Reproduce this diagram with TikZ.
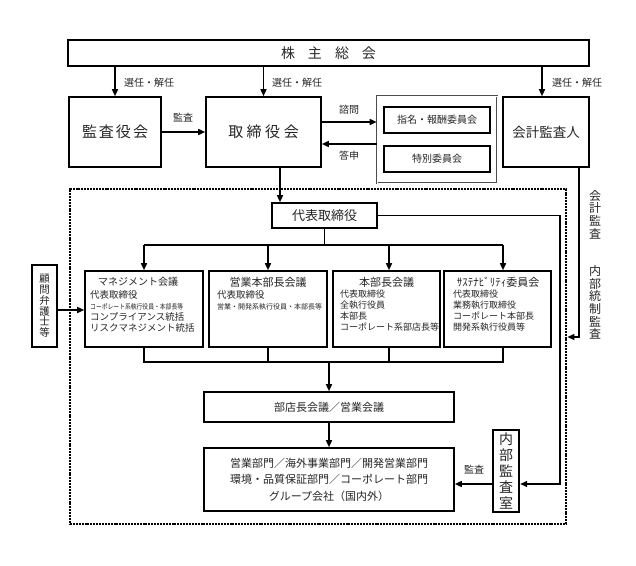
\documentclass[tikz,border=0pt]{standalone}
\usepackage{fontspec}
\usepackage{graphicx}
\setmainfont{Noto Sans CJK JP}
\usetikzlibrary{arrows.meta}
\newcommand\myfs[2]{\fontsize{#1}{#2}\selectfont}
\begin{document}
\begin{tikzpicture}[x=1pt,y=-1pt,
  box/.style={draw, line width=1.6pt, inner sep=0pt, align=center, text=black!85},
  arr/.style={line width=1.5pt, -{Triangle[length=7pt,width=6pt]}},
  ln/.style={line width=1.3pt},
  lbl/.style={font=\myfs{10}{12}, text=black!85, inner sep=0pt},
  txt/.style={inner sep=0pt, text=black!85},
  vtxt/.style={inner sep=0pt, text=black!85, align=center, font=\myfs{12}{12.6}}]
\fill[white] (0,0) rectangle (636,565);
\useasboundingbox (0,0) rectangle (636,565);

% top row
\node[box, line width=2.6pt, minimum width=521pt, minimum height=26pt, font=\myfs{14}{16}] (kabu) at (328.5,53) {株\hspace{13pt}主\hspace{13pt}総\hspace{13pt}会};
\node[box, minimum width=92pt, minimum height=70pt, font=\myfs{15}{17}] (kansa) at (115,132) {監\hspace{2pt}査\hspace{2pt}役\hspace{2pt}会};
\node[box, minimum width=115pt, minimum height=70pt, font=\myfs{15}{17}] (tori) at (263.5,132) {取\hspace{3.5pt}締\hspace{3.5pt}役\hspace{3.5pt}会};
\node[draw=black!70, double=white, double distance=0.6pt, line width=0.6pt, minimum width=120pt, minimum height=87pt, inner sep=0pt] (grp) at (437,139.5) {};
\node[box, minimum width=106pt, minimum height=26pt, font=\myfs{10}{12}] (shimei) at (437,120) {指名・報酬委員会};
\node[box, minimum width=106pt, minimum height=26pt, font=\myfs{10}{12}] (toku) at (437,159) {特別委員会};
\node[box, minimum width=86pt, minimum height=70pt, font=\myfs{13.5}{16}] (kaikei) at (546,132) {会計監査人};

\draw[arr] (kabu.south -| kansa) -- (kansa.north);
\draw[arr] (kabu.south -| tori) -- (tori.north);
\draw[arr] ([xshift=-4pt]kaikei.north |- kabu.south) -- ([xshift=-4pt]kaikei.north);
\node[lbl, anchor=west] (l1) at (124,83) {選任・解任};
\node[lbl, anchor=west] (l2) at (272,83) {選任・解任};
\node[lbl, anchor=west] (l3) at (552,83) {選任・解任};

\draw[arr] (kansa.east) -- (tori.west);
\node[lbl] (lk) at (183,118) {監査};
\coordinate (q1) at ([yshift=10pt]tori.east);
\draw[arr] (q1) -- (q1 -| grp.west);
\node[lbl] (lq) at (349,110) {諮問};
\coordinate (q2) at ([yshift=-12pt]tori.east);
\draw[arr] (q2 -| grp.west) -- (q2);
\node[lbl] (la) at (349,156) {答申};

% dotted frame
\node[draw, line width=2.8pt, dash pattern=on 2pt off 0.9pt, minimum width=496pt, minimum height=335pt, inner sep=0pt] (frame) at (318,356.5) {};

% representative director
\node[box, minimum width=105pt, minimum height=25pt, font=\myfs{13}{15}] (daihyo) at (324.5,215.5) {代表取締役};
\coordinate (t1) at ([xshift=16.5pt]tori.south);
\draw[arr] (t1) -- (t1 |- daihyo.north);

% four meeting boxes
\node[box, minimum width=118pt, minimum height=76pt] (b1) at (144,309) {};
\node[box, minimum width=118pt, minimum height=76pt] (b2) at (268,309) {};
\node[box, minimum width=107pt, minimum height=76pt] (b3) at (386.5,309) {};
\node[box, minimum width=107pt, minimum height=76pt] (b4) at (497.5,309) {};

\node[txt, font=\myfs{10}{12}] (b1t) at (138,282) {マネジメント会議};
\node[txt, font=\myfs{9.5}{11}, align=left, anchor=north west] (b1x) at (90,290) {代表取締役\\{\scalebox{0.83}[1]{\myfs{7}{8}コーポレート系執行役員・本部長等}}\\コンプライアンス統括\\リスクマネジメント統括};
\node[txt, font=\myfs{11}{13}] (b2t) at (268,282) {営業本部長会議};
\node[txt, font=\myfs{9.5}{11}, align=left, anchor=north west] (b2x) at (217,290) {代表取締役\\{\myfs{7}{8}営業・開発系執行役員・本部長等}};
\node[txt, font=\myfs{11}{13}] (b3t) at (386.5,282) {本部長会議};
\node[txt, font=\myfs{9}{11}, align=left, anchor=north west] (b3x) at (340,290) {代表取締役\\全執行役員\\本部長\\コーポレート系部店長等};
\node[txt, font=\myfs{11}{13}] (b4t) at (498,282) {ｻｽﾃﾅﾋﾞﾘﾃｨ委員会};
\node[txt, font=\myfs{9}{11}, align=left, anchor=north west] (b4x) at (453,290) {代表取締役\\業務執行取締役\\コーポレート本部長\\開発系執行役員等};

\coordinate (bt) at (324.5,245);
\coordinate (b4a) at ([xshift=5.5pt]b4.north);
\draw[ln] (daihyo.south) -- (bt);
\draw[ln] (bt -| b1.north) -- (bt -| b4a);
\draw[arr] (bt -| b1.north) -- (b1.north);
\draw[arr] (bt -| b2.north) -- (b2.north);
\draw[arr] ([xshift=2.5pt]b3.north |- bt) -- ([xshift=2.5pt]b3.north);
\draw[arr] (bt -| b4a) -- (b4a);

% bottom bar
\coordinate (bb) at (329,362);
\draw[ln] (b1.south) -- (b1.south |- bb) -- (bb -| b4a) -- (b4a |- b4.south);
\draw[ln] (b2.south) -- (b2.south |- bb);
\draw[ln] ([xshift=2.5pt]b3.south) -- ([xshift=2.5pt]b3.south |- bb);

\node[box, minimum width=250pt, minimum height=30pt, font=\myfs{11}{13}] (bu) at (329,407) {部店長会議／営業会議};
\draw[arr] (bb) -- (bu.north);
\node[box, minimum width=250pt, minimum height=63pt, font=\myfs{11}{16.5}] (eig) at (329,479.5) {営業部門／海外事業部門／開発営業部門\\環境・品質保証部門／コーポレート部門\\グループ会社（国内外）};
\draw[arr] (bu.south) -- (eig.north);

% internal audit
\node[box, line width=2.4pt, minimum width=26pt, minimum height=82pt, font=\myfs{14}{16}] (naibu) at (506,471) {内\\部\\監\\査\\室};
\coordinate (n1) at ([yshift=-13pt]naibu.west);
\draw[arr] (n1) -- (n1 -| eig.east);
\node[lbl] (lk2) at (474,470) {監査};
\coordinate (n2) at ([yshift=-13pt]naibu.east);
\coordinate (dr) at (560,215.5);
\draw[arr] (daihyo.east) -- (dr) -- (dr |- n2) -- (n2);

% accounting auditor line
\coordinate (k1) at ([xshift=33pt]kaikei.south);
\coordinate (k2) at (579,337);
\draw[arr] (k1) -- (k2) -- (k2 -| frame.east);
\node[vtxt] (v1) at (595,214.5) {会\\計\\監\\査};
\node[vtxt] (v2) at (595,302.5) {内\\部\\統\\制\\監\\査};

% legal advisors
\node[box, minimum width=25pt, minimum height=82pt, font=\myfs{10.5}{10.8}] (komon) at (44.5,306) {顧\\問\\弁\\護\\士\\等};
\coordinate (c1) at ([yshift=-4pt]komon.east);
\draw[arr] (c1) -- (c1 -| b1.west);
\end{tikzpicture}
\end{document}
